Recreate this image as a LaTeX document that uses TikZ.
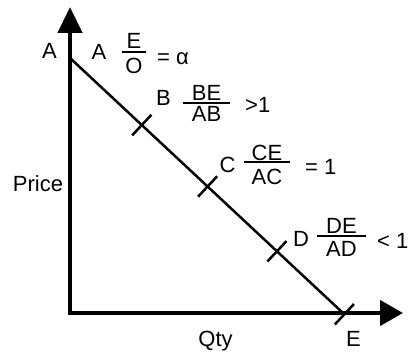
\documentclass[tikz,border=0pt]{standalone}
\usepackage{fontspec}
\setmainfont{Liberation Sans}
\usetikzlibrary{arrows.meta,calc}
\begin{document}
\begin{tikzpicture}[x=1pt,y=-1pt,
  lbl/.style={anchor=base,inner sep=0pt,font=\fontsize{22}{26}\selectfont},
  lblw/.style={lbl,anchor=base west},
  axis/.style={line width=4.5pt,line join=miter,
    {Triangle[length=26pt,width=24pt]}-{Triangle[length=23pt,width=25pt]}},
  demand/.style={line width=2.5pt},
  tickmark/.style={line width=2.5pt},
  fbar/.style={line width=2pt}]
\useasboundingbox (0,0) rectangle (410,352);
% axes
\coordinate (O) at (70,313);
\coordinate (Ytip) at (70,7);
\coordinate (Xtip) at (403,313);
\draw[axis] (Ytip) -- (O) -- (Xtip);
% demand line
\coordinate (A) at (70,58);
\coordinate (E) at (343,313);
\draw[demand] (A) -- (E);
% ticks
\foreach \n/\t in {tB/0.263,tC/0.504,tD/0.758,tE/1.005}{
  \coordinate (\n) at ($(A)!\t!(E)$);
  \draw[tickmark] ($(\n)!14pt!90:(E)$) -- ($(\n)!14pt!-90:(E)$);
}
% axis labels
\node[lbl] (lA) at (49.5,59) {A};
\node[lbl] (price) at (38,192) {Price};
\node[lbl] (qty) at (215.5,347) {Qty};
\node[lbl] (lE) at (353.5,347) {E};
% A
\node[lbl] (pA) at (99,60) {A};
\node[lbl] (nA) at (134,49) {E};
\draw[fbar] (122,52.5) -- (146,52.5);
\node[lbl] (dA) at (134,73.5) {O};
\node[lblw] (rA) at (157,65) {= α};
% B
\node[lbl] (pB) at (163.5,106) {B};
\node[lbl] (nB) at (206.5,101) {BE};
\draw[fbar] (183,103) -- (230,103);
\node[lbl] (dB) at (206.5,122) {AB};
\node[lblw] (rB) at (245,113) {>1};
% C
\node[lbl] (pC) at (227.5,173) {C};
\node[lbl] (nC) at (267,161) {CE};
\draw[fbar] (244,162.5) -- (290,162.5);
\node[lbl] (dC) at (267,185) {AC};
\node[lblw] (rC) at (305,175) {= 1};
% D
\node[lbl] (pD) at (301,247) {D};
\node[lbl] (nD) at (341.5,234) {DE};
\draw[fbar] (317,236) -- (366,236);
\node[lbl] (dD) at (341.5,257) {AD};
\node[lblw] (rD) at (377,249) {< 1};
\end{tikzpicture}
\end{document}
